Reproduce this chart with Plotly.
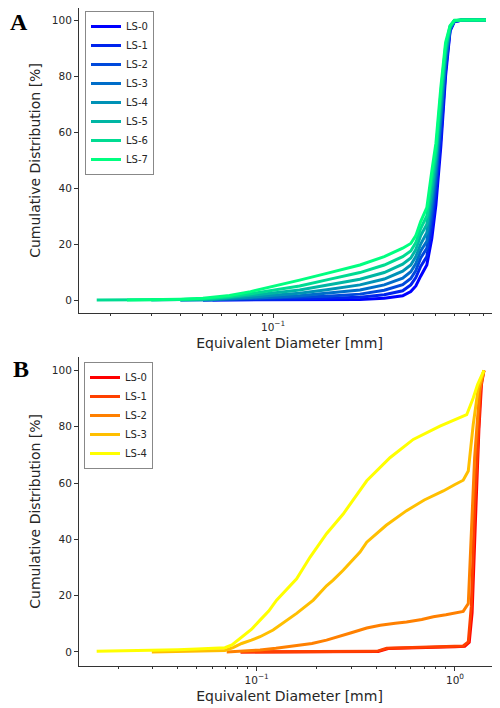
import plotly.graph_objects as go

# ---------------- Panel A data ----------------
names_a = ["LS-0", "LS-1", "LS-2", "LS-3", "LS-4", "LS-5", "LS-6", "LS-7"]
colors_a = ["#0000ff", "#0024ed", "#0049db", "#006dc9", "#0092b6", "#00b6a4", "#00db92", "#00ff80"]
x_a = [0.0175, 0.0236, 0.03, 0.04, 0.05, 0.055, 0.065, 0.08, 0.1, 0.13, 0.17, 0.236, 0.3, 0.36,
       0.39, 0.41, 0.43, 0.457, 0.48, 0.5, 0.525, 0.55, 0.575, 0.6, 0.65, 0.82]
ls0_a = [None, None, None, None, None, 0.0, 0.0, 0.0, 0.05, 0.1, 0.1, 0.2, 0.6, 1.5,
         3.0, 5.0, 8.5, 12.5, 22.0, 34.0, 55.0, 80.0, 96.0, 99.4, 100, 100]
ls1_a = [None, None, None, None, 0.0, 0.0, 0.1, 0.1, 0.2, 0.4, 0.6, 1.0, 1.9, 3.3,
         5.4, 8.0, 12.0, 15.5, 26.0, 38.0, 58.0, 82.0, 96.4, 99.5, 100, 100]
ls2_a = [None, None, None, None, 0.0, 0.1, 0.2, 0.3, 0.5, 0.8, 1.3, 2.1, 3.5, 5.5,
         7.7, 10.5, 15.0, 18.5, 30.0, 42.0, 62.0, 84.0, 96.7, 99.6, 100, 100]
ls3_a = [None, None, None, 0.0, 0.05, 0.1, 0.4, 0.6, 1.0, 1.5, 2.4, 3.6, 5.4, 7.8,
         10.1, 13.0, 17.5, 21.0, 33.0, 45.0, 65.0, 86.0, 97.0, 99.7, 100, 100]
ls4_a = [None, None, None, 0.0, 0.1, 0.2, 0.6, 1.0, 1.7, 2.4, 3.7, 5.4, 7.5, 10.3,
         12.5, 15.5, 20.0, 24.0, 36.0, 48.0, 68.0, 87.5, 97.2, 99.7, 100, 100]
ls5_a = [None, None, 0.0, 0.1, 0.2, 0.4, 0.9, 1.6, 2.5, 3.6, 5.3, 7.4, 9.8, 12.8,
         15.0, 18.0, 23.0, 27.0, 39.0, 51.0, 71.0, 89.0, 97.5, 99.8, 100, 100]
ls6_a = [0.0, 0.0, 0.1, 0.2, 0.4, 0.6, 1.2, 2.2, 3.5, 5.0, 7.2, 9.8, 12.5, 15.5,
         17.5, 20.5, 25.5, 30.0, 43.0, 53.0, 74.0, 90.5, 97.8, 99.8, 100, 100]
ls7_a = [None, 0.0, 0.1, 0.3, 0.6, 0.9, 1.6, 3.0, 4.8, 7.1, 9.5, 12.5, 15.5, 18.5,
         20.2, 23.0, 28.0, 33.0, 46.0, 56.0, 76.0, 92.0, 98.0, 99.9, 100, 100]
series_a = [ls0_a, ls1_a, ls2_a, ls3_a, ls4_a, ls5_a, ls6_a, ls7_a]

# ---------------- Panel B data ----------------
names_b = ["LS-0", "LS-1", "LS-2", "LS-3", "LS-4"]
colors_b = ["#ff0000", "#ff4000", "#ff8000", "#ffbf00", "#ffff00"]
x_b0 = [0.083, 0.15, 0.25, 0.35, 0.41, 0.46, 0.6, 0.8, 1.0, 1.12, 1.18, 1.22, 1.27, 1.32, 1.36, 1.40]
y_b0 = [0.0, 0.0, 0.0, 0.05, 0.15, 1.2, 1.5, 1.7, 1.8, 2.0, 3.4, 14.0, 48.0, 79.0, 95.0, 100.0]
x_b1 = [0.083, 0.15, 0.25, 0.35, 0.403, 0.452, 0.6, 0.8, 1.0, 1.10, 1.167, 1.208, 1.256, 1.31, 1.35, 1.40]
y_b1 = [0.0, 0.0, 0.05, 0.1, 0.2, 1.3, 1.6, 1.8, 1.9, 2.1, 3.6, 16.0, 51.0, 80.8, 96.0, 100.0]
x_b2 = [0.0706, 0.085, 0.104, 0.125, 0.153, 0.19, 0.225, 0.26, 0.30, 0.359, 0.42, 0.5, 0.57,
        0.68, 0.778, 0.9, 1.10, 1.167, 1.208, 1.256, 1.33, 1.40]
y_b2 = [0.0, 0.3, 0.7, 1.3, 2.2, 3.0, 4.2, 5.4, 6.8, 8.5, 9.5, 10.2, 10.6,
        11.5, 12.5, 13.2, 14.4, 17.2, 39.6, 69.0, 92.6, 100.0]
x_b3 = [0.0296, 0.04, 0.05, 0.06, 0.0692, 0.076, 0.084, 0.094, 0.104, 0.121, 0.1415, 0.159,
        0.193, 0.225, 0.243, 0.273, 0.332, 0.359, 0.45, 0.57, 0.70, 0.873, 1.0, 1.10, 1.167,
        1.236, 1.31, 1.40]
y_b3 = [0.0, 0.1, 0.2, 0.3, 0.5, 1.5, 3.0, 4.2, 5.4, 7.8, 11.3, 13.7,
        18.4, 23.5, 25.5, 29.0, 35.5, 39.0, 45.0, 50.2, 54.0, 57.2, 59.5, 61.0, 64.3,
        80.8, 93.7, 100.0]
x_b4 = [0.0156, 0.02, 0.03, 0.04, 0.05, 0.06, 0.0692, 0.075, 0.084, 0.094, 0.104, 0.115,
        0.126, 0.14, 0.159, 0.186, 0.225, 0.273, 0.332, 0.359, 0.47, 0.616, 0.84, 1.0,
        1.146, 1.236, 1.30, 1.40]
y_b4 = [0.2, 0.3, 0.5, 0.8, 1.0, 1.2, 1.5, 2.5, 5.4, 8.0, 11.3, 14.5,
        18.4, 22.0, 26.0, 33.7, 42.0, 49.0, 57.2, 60.8, 69.0, 75.5, 80.2, 82.5,
        84.3, 90.2, 95.0, 100.0]
series_b = [(x_b0, y_b0), (x_b1, y_b1), (x_b2, y_b2), (x_b3, y_b3), (x_b4, y_b4)]

yticks = [0, 20, 40, 60, 80, 100]
minor_a = [0.02, 0.03, 0.04, 0.05, 0.06, 0.07, 0.08, 0.09, 0.2, 0.3, 0.4, 0.5, 0.6, 0.7, 0.8, 0.9]
minor_b = [0.02, 0.03, 0.04, 0.05, 0.06, 0.07, 0.08, 0.09, 0.2, 0.3, 0.4, 0.5, 0.6, 0.7, 0.8, 0.9]

fig = go.Figure()
for name, col, ys in zip(names_a, colors_a, series_a):
    fig.add_trace(go.Scatter(x=x_a, y=ys, mode="lines", name=name,
                             line=dict(color=col, width=3), xaxis="x", yaxis="y",
                             legend="legend"))
for name, col, (xs, ys) in zip(names_b, colors_b, series_b):
    fig.add_trace(go.Scatter(x=xs, y=ys, mode="lines", name=name,
                             line=dict(color=col, width=3), xaxis="x2", yaxis="y2",
                             legend="legend2"))

axcol = "#333333"
tickfont = dict(family="DejaVu Sans", size=10.5, color="#262626")
titlefont = dict(family="DejaVu Sans", size=14, color="#262626")

common_x = dict(type="log", showline=True, linecolor=axcol, linewidth=1, ticks="outside",
                ticklen=4, tickcolor=axcol, showgrid=False, zeroline=False, tickfont=tickfont,
                automargin=False,
                title=dict(text="Equivalent Diameter [mm]", font=titlefont, standoff=6))
common_y = dict(tickvals=yticks, showline=True, linecolor=axcol, linewidth=1,
                ticks="outside", ticklen=4, tickcolor=axcol, showgrid=False, zeroline=False,
                tickfont=tickfont, automargin=False,
                title=dict(text="Cumulative Distribution [%]", font=titlefont, standoff=7))

# page is offset by the 8px body margin: figure coords = screen - 8
W, H = 492, 700
ML, MB, MT = 71, 42, 0
PH = H - MB - MT  # 658
bot_a = (PH - 305) / PH
top_b = (PH - 348.7) / PH

fig.update_layout(
    width=W, height=H,
    margin=dict(l=ML, r=0, t=MT, b=MB),
    paper_bgcolor="white", plot_bgcolor="white",
    xaxis=dict(common_x, range=[-1.833, -0.026], tickvals=[0.1], ticktext=["10<sup>−1</sup>"],
               minor=dict(tickvals=minor_a, ticks="outside", ticklen=2, tickcolor=axcol),
               anchor="y"),
    yaxis=dict(common_y, range=[-4.64, 104.3], domain=[bot_a, 1.0], anchor="x"),
    xaxis2=dict(common_x, range=[-1.896, 0.227], tickvals=[0.1, 1],
                ticktext=["10<sup>−1</sup>", "10<sup>0</sup>"],
                minor=dict(tickvals=minor_b, ticks="outside", ticklen=2, tickcolor=axcol),
                anchor="y2"),
    yaxis2=dict(common_y, range=[-5.0, 104.9], domain=[0, top_b], anchor="x2"),
    legend=dict(x=6 / 421, y=(PH - 3) / PH, xanchor="left", yanchor="top",
                bordercolor="#888888", borderwidth=1, bgcolor="rgba(255,255,255,0.8)",
                font=dict(family="DejaVu Sans", size=10, color="#262626"),
                tracegroupgap=0),
    legend2=dict(x=5 / 421, y=(PH - 354) / PH, xanchor="left", yanchor="top",
                 bordercolor="#888888", borderwidth=1, bgcolor="rgba(255,255,255,0.8)",
                 font=dict(family="DejaVu Sans", size=10, color="#262626"),
                 tracegroupgap=0),
    showlegend=True,
    annotations=[
        dict(text="<b>A</b>", x=(1 - ML) / 421, y=1.0, xref="paper", yref="paper",
             xanchor="left", yanchor="top", showarrow=False, borderpad=0,
             font=dict(family="Liberation Serif", size=24, color="black")),
        dict(text="<b>B</b>", x=(3 - ML) / 421, y=(PH - 346) / PH, xref="paper", yref="paper",
             xanchor="left", yanchor="top", showarrow=False,
             font=dict(family="Liberation Serif", size=24, color="black")),
    ],
)

fig.write_html("out.html")
